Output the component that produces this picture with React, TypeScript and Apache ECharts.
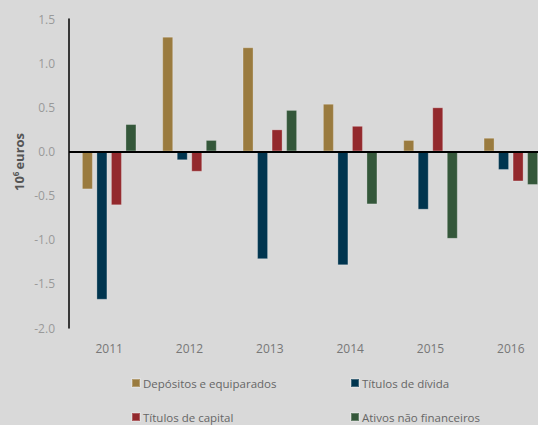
import React, { useEffect, useRef } from "react";
import * as echarts from "echarts";

const years = ["2011", "2012", "2013", "2014", "2015", "2016"];
const seriesNames = [
  "Depósitos e equiparados",
  "Títulos de dívida",
  "Títulos de capital",
  "Ativos não financeiros",
];
const depositos = [-0.43, 1.3, 1.18, 0.54, 0.13, 0.155];
const titulosDivida = [-1.68, -0.1, -1.22, -1.29, -0.66, -0.21];
const titulosCapital = [-0.61, -0.23, 0.25, 0.29, 0.5, -0.34];
const ativosNaoFin = [0.31, 0.13, 0.47, -0.6, -0.99, -0.38];
const colors = ["#9a7b3f", "#00354f", "#93292d", "#34573a"];
const seriesData = [depositos, titulosDivida, titulosCapital, ativosNaoFin];
const yAxisTitle = "10{sup|6}euros";

export default function App() {
  const ref = useRef<HTMLDivElement>(null);
  useEffect(() => {
    if (!ref.current) return;
    const chart = echarts.init(ref.current, null, { renderer: "svg" });
    const font = "'Open Sans', sans-serif";
    const legendPos = [
      { left: 131, top: 377 },
      { left: 350, top: 377 },
      { left: 131, top: 411 },
      { left: 350, top: 411 },
    ];
    chart.setOption({
      animation: false,
      backgroundColor: "#d9d9d9",
      textStyle: { fontFamily: font },
      grid: { left: 69, right: 0, top: 19, bottom: 97 },
      legend: seriesNames.map((n, i) => ({
        data: [n],
        left: legendPos[i].left,
        top: legendPos[i].top,
        itemWidth: 8,
        itemHeight: 8,
        icon: "rect",
        padding: 0,
        textStyle: { color: "#666", fontSize: 11.5, fontFamily: font, padding: [0, 0, 0, -2] },
      })),
      graphic: [
        {
          type: "text",
          x: 19,
          y: 162,
          rotation: Math.PI / 2,
          style: {
            text: yAxisTitle,
            fill: "#555",
            font: "bold 13px 'Open Sans', sans-serif",
            align: "center",
            verticalAlign: "middle",
            rich: {
              sup: {
                fontSize: 8,
                fontWeight: "bold",
                fill: "#555",
                fontFamily: font,
                verticalAlign: "top",
                padding: [0, 2, 7, 0],
              },
            },
          },
        },
      ],
      xAxis: {
        type: "category",
        data: years,
        axisLine: { show: false, onZero: false },
        axisTick: { show: false },
        axisLabel: { color: "#777", fontSize: 12, margin: 14, fontFamily: font },
        splitLine: { show: false },
      },
      yAxis: {
        type: "value",
        min: -2,
        max: 1.5,
        interval: 0.5,
        axisLine: { show: true, lineStyle: { color: "#000", width: 1.5 } },
        axisTick: { show: false },
        splitLine: { show: false },
        axisLabel: {
          color: "#999",
          fontSize: 12,
          margin: 14,
          fontFamily: font,
          formatter: (v: number) => v.toFixed(1),
        },
      },
      series: seriesNames.map((n, i) => ({
        name: n,
        type: "bar",
        data: seriesData[i],
        barWidth: 11,
        barGap: "32%",
        barCategoryGap: "32%",
        itemStyle: { color: colors[i], borderColor: "rgba(255,255,255,0.25)", borderWidth: 1 },
        markLine:
          i === 0
            ? {
                silent: true,
                symbol: "none",
                label: { show: false },
                lineStyle: { color: "#000", width: 2, type: "solid" },
                data: [{ yAxis: 0 }],
              }
            : undefined,
      })),
    });
    return () => chart.dispose();
  }, []);
  return (
    <div
      style={{ position: "fixed", left: 0, top: 0, width: 538, height: 425, overflow: "hidden", background: "#d9d9d9" }}
    >
      <div ref={ref} style={{ width: 551, height: 425 }} />
    </div>
  );
}
